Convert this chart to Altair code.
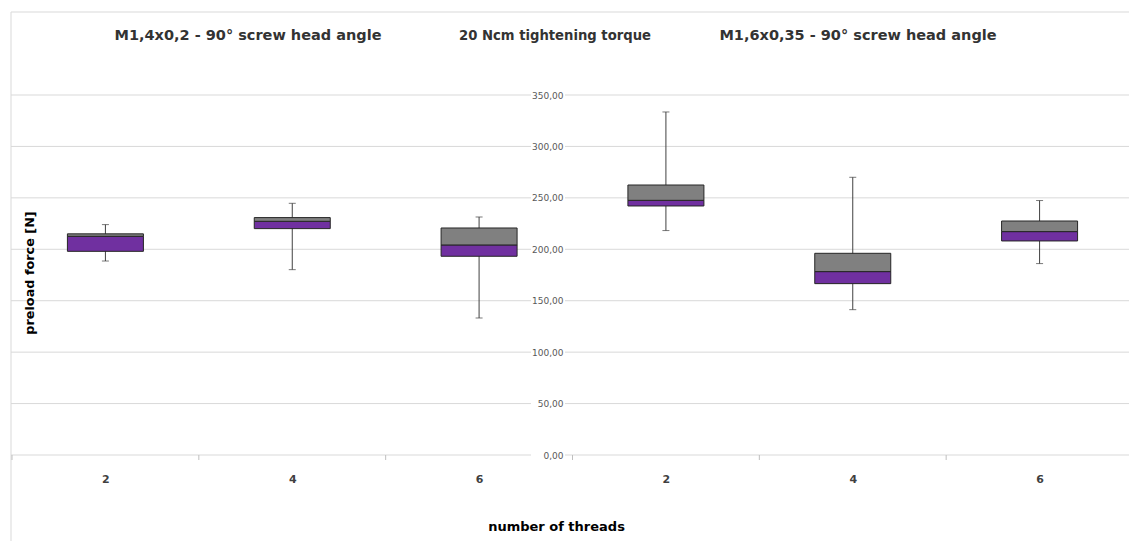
import json
import altair as alt
import pandas as pd

# ---- data ----
categories = ["2", "4", "6", "2", "4", "6"]
whisker_low = [188.6, 180.2, 133.2, 218.2, 141.3, 186.1]
q1 = [198.0, 220.1, 193.2, 242.1, 166.6, 208.1]
median = [212.6, 227.2, 204.2, 247.6, 178.3, 217.2]
q3 = [215.0, 230.8, 220.7, 262.5, 196.1, 227.5]
whisker_high = [224.0, 244.7, 231.4, 333.5, 270.0, 247.4]
y_ticks = [0, 50, 100, 150, 200, 250, 300, 350]
group_titles = [
    "M1,4x0,2 - 90° screw head angle",
    "20 Ncm tightening torque",
    "M1,6x0,35 - 90° screw head angle",
]
x_title = "number of threads"
y_title = "preload force [N]"

df = pd.DataFrame({
    "pos": list(range(len(categories))),
    "label": categories,
    "low": whisker_low, "q1": q1, "med": median, "q3": q3, "high": whisker_high,
})
grid_df = pd.DataFrame({"v": y_ticks})
bound_df = pd.DataFrame({"b": [i - 0.5 for i in range(len(categories) + 1)]})

W, H = 1122, 360
FONT = "DejaVu Sans"
GRID = "#d9d9d9"
xscale = alt.Scale(domain=[-0.5, len(categories) - 0.5], range=[0, 1131], nice=False, zero=False)
yscale = alt.Scale(domain=[0, 350], nice=False, zero=False)

label_expr = json.dumps(categories) + "[datum.value]"

grid_left = alt.Chart(grid_df).mark_rule(color=GRID, strokeWidth=1).encode(
    y=alt.Y("v:Q", scale=yscale, axis=None),
    x=alt.value(4), x2=alt.value(524),
)
grid_right = alt.Chart(grid_df).mark_rule(color=GRID, strokeWidth=1).encode(
    y=alt.Y("v:Q", scale=yscale, axis=None),
    x=alt.value(558), x2=alt.value(1131),
)
border_top = alt.Chart(grid_df.head(1)).mark_rule(color=GRID).encode(
    x=alt.value(4), x2=alt.value(1131), y=alt.value(-83)
)
border_left = alt.Chart(grid_df.head(1)).mark_rule(color=GRID).encode(
    x=alt.value(4), y=alt.value(-83), y2=alt.value(450)
)
bound_ticks = alt.Chart(bound_df).mark_rule(color="#bfbfbf").encode(
    x=alt.X("b:Q", scale=xscale, axis=None),
    y=alt.value(H), y2=alt.value(H + 5),
)

whiskers = alt.Chart(df).mark_rule(color="#404040", strokeWidth=1).encode(
    x=alt.X("pos:Q", scale=xscale, axis=alt.Axis(
        values=list(range(len(categories))), labelExpr=label_expr,
        domain=False, ticks=False, grid=False,
        labelFont=FONT, labelFontWeight="bold", labelFontSize=11, labelColor="#404040",
        labelBaseline="middle", labelPadding=24,
        title=x_title, titleFont=FONT, titleFontWeight="bold", titleFontSize=13,
        titleColor="#000000", titleX=549, titleY=71, titleBaseline="middle",
    )),
    y=alt.Y("low:Q", scale=yscale, axis=None),
    y2="high:Q",
)
cap_low = alt.Chart(df).mark_tick(orient="horizontal", size=7, thickness=1, color="#404040").encode(
    x=alt.X("pos:Q", scale=xscale, axis=None),
    y=alt.Y("low:Q", scale=yscale, axis=None),
)
cap_high = alt.Chart(df).mark_tick(orient="horizontal", size=7, thickness=1, color="#404040").encode(
    x=alt.X("pos:Q", scale=xscale, axis=None),
    y=alt.Y("high:Q", scale=yscale, axis=None),
)
box_low = alt.Chart(df).mark_bar(size=76, color="#7030A0", stroke="#262626", strokeWidth=1).encode(
    x=alt.X("pos:Q", scale=xscale, axis=None),
    y=alt.Y("q1:Q", scale=yscale, axis=alt.Axis(
        values=y_ticks, labelExpr="replace(format(datum.value, '.2f'), '.', ',')",
        orient="left", offset=-565, domain=False, ticks=False, tickSize=0, grid=False,
        labelFont=FONT, labelFontSize=9, labelColor="#595959", labelPadding=9, title=None,
    )),
    y2="med:Q",
)
box_high = alt.Chart(df).mark_bar(size=76, color="#808080", stroke="#262626", strokeWidth=1).encode(
    x=alt.X("pos:Q", scale=xscale, axis=None),
    y=alt.Y("med:Q", scale=yscale, axis=None),
    y2="q3:Q",
)

title_x = [241, 548, 851]
title_size = [14.5, 13.2, 14.5]
titles = [
    alt.Chart(pd.DataFrame({"t": [t]})).mark_text(
        font=FONT, fontWeight="bold", fontSize=s, color="#333333", baseline="middle", align="center"
    ).encode(x=alt.value(xv), y=alt.value(-59), text="t:N")
    for t, xv, s in zip(group_titles, title_x, title_size)
]
ytitle = alt.Chart(pd.DataFrame({"t": [y_title]})).mark_text(
    font=FONT, fontWeight="bold", fontSize=12.8, color="#000000", angle=270, baseline="middle", align="center"
).encode(x=alt.value(23), y=alt.value(178), text="t:N")

chart = alt.layer(
    grid_left, grid_right, border_top, border_left, bound_ticks,
    whiskers, cap_low, cap_high, box_low, box_high, *titles, ytitle,
).resolve_axis(x="independent", y="independent").properties(
    width=W, height=H,
    autosize=alt.AutoSizeParams(type="none"),
    padding={"left": 7, "top": 95, "right": 0, "bottom": 86},
    background="white",
).configure_view(stroke=None)

chart.save("out.html", embed_options={"renderer": "svg", "actions": False})
